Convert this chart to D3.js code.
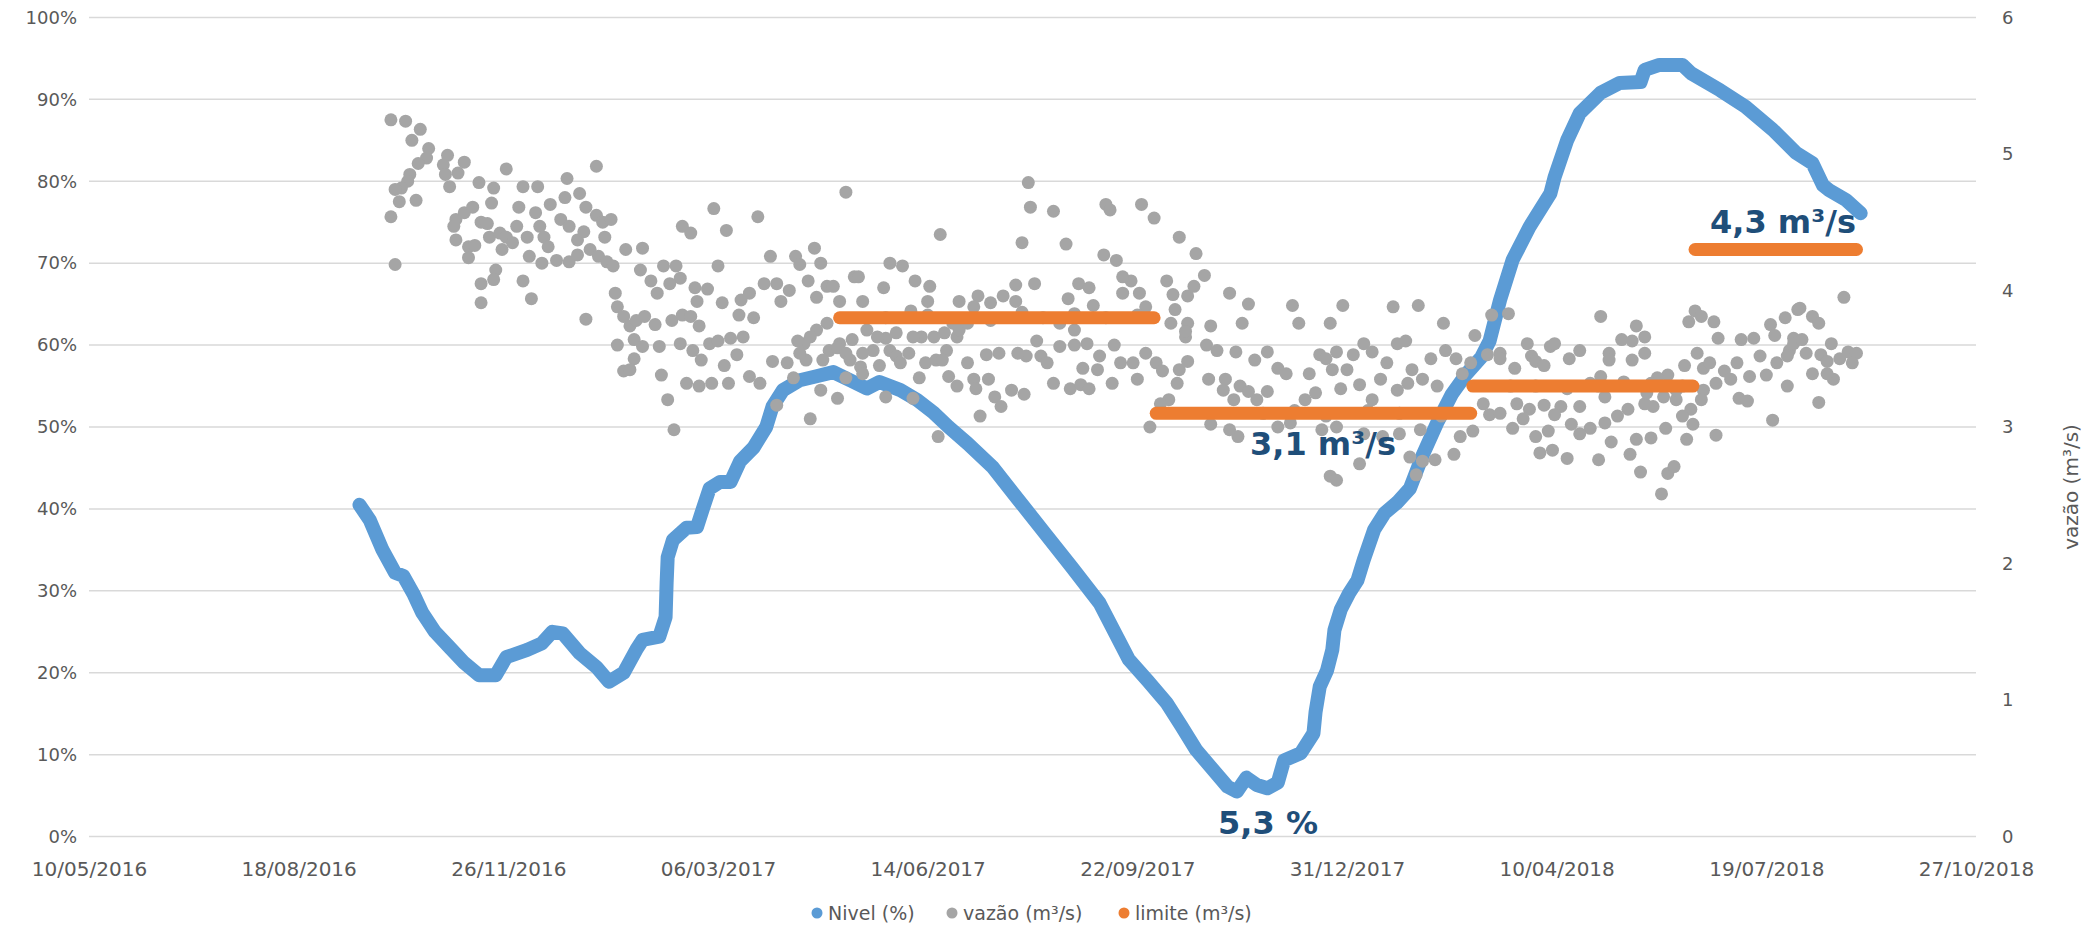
<!DOCTYPE html>
<html><head><meta charset="utf-8">
<script src="https://cdn.jsdelivr.net/npm/d3@7"></script>
<style>
body{margin:0;background:#fff}
svg{display:block}
text{font-family:'DejaVu Sans',sans-serif}
</style></head>
<body><div id="chart"></div>
<script>
// ---------- DATA ----------
const dataBase = '2016-05-10'; // days below are counted from this date
const xTickLabels = ['10/05/2016','18/08/2016','26/11/2016','06/03/2017','14/06/2017','22/09/2017','31/12/2017','10/04/2018','19/07/2018','27/10/2018'];
const yTicksNivel = [0,0.1,0.2,0.3,0.4,0.5,0.6,0.7,0.8,0.9,1];
const yTicksVazao = [0,1,2,3,4,5,6];
const seriesNames = ['Nivel (%)','vazão (m³/s)','limite (m³/s)'];

// Nivel (%) : [day, percent]
const nivel = [[129,40.5],[134,38.6],[140,35.0],[146,32.2],[150,31.8],[155,29.5],[159,27.3],[165,25.0],[172,23.1],[179,21.2],[186,19.7],[194,19.7],[199,21.9],[209,22.8],[216,23.6],[221,25.0],[226,24.8],[234,22.4],[242,20.7],[248,18.9],[255,20.0],[261,22.8],[264,24.0],[272,24.4],[275,26.8],[275.5,31.0],[276,34.1],[278.5,36.2],[285,37.7],[290,37.8],[293,40.2],[296,42.5],[301,43.3],[306,43.3],[310.5,45.8],[317,47.5],[323,50.0],[326,52.5],[331,54.5],[339,55.7],[347,56.2],[355,56.7],[363,55.7],[371,54.7],[377,55.5],[387,54.5],[395,53.3],[403,51.7],[410,50.0],[419,48.0],[431,45.1],[443,41.2],[456,37.0],[469,32.8],[482,28.5],[496,21.6],[505,19.0],[514,16.3],[521,13.5],[528,10.6],[535,8.5],[543,6.1],[547.5,5.5],[552,7.2],[557,6.3],[562,5.9],[567,6.6],[570,9.3],[578,10.2],[584,12.6],[585,15.2],[587,18.3],[590.5,20.3],[593,22.8],[594,25.2],[597,27.7],[601,29.7],[605,31.3],[608,33.8],[613,37.5],[618,39.5],[624,40.8],[630,42.5],[636,46.5],[643,50.5],[650,54.0],[657,56.5],[664,58.5],[668,60.5],[673,65.5],[679,70.4],[687,74.4],[697,78.5],[699,80.5],[705,85.0],[711,88.3],[721,90.8],[730,92.0],[740,92.1],[742,93.6],[749,94.2],[760,94.2],[764,93.2],[778,91.1],[790,89.1],[803,86.3],[814,83.5],[822,82.2],[827,79.5],[830,78.9],[838,77.7],[845,76.1]];

// vazão (m³/s) : [day, value]
const vazao = [
[144,5.25],[151,5.24],[158,5.18],[154,5.10],[162,5.04],[161,4.97],[157,4.93],[171,4.99],[169,4.92],[170,4.85],[172,4.76],[176,4.86],[179,4.94],[153,4.85],[152,4.80],[149,4.75],[146,4.74],[148,4.65],[156,4.66],[144,4.54],[146,4.19],[186,4.79],[193,4.75],[192,4.64],[199,4.89],[207,4.76],[214,4.76],[205,4.61],[213,4.57],[220,4.63],[227,4.68],[228,4.82],[234,4.71],[237,4.61],[242,4.91],[242,4.55],[245,4.50],[249,4.52],[175,4.52],[179,4.57],[183,4.61],[174,4.47],[187,4.50],[190,4.49],[191,4.39],[175,4.37],[181,4.32],[184,4.33],[181,4.24],[196,4.42],[199,4.39],[202,4.35],[197,4.30],[204,4.47],[209,4.39],[210,4.25],[215,4.47],[217,4.39],[219,4.32],[216,4.20],[223,4.22],[225,4.52],[229,4.47],[233,4.37],[236,4.43],[229,4.21],[233,4.26],[239,4.30],[243,4.25],[246,4.39],[247,4.21],[250,4.18],[256,4.30],[264,4.31],[263,4.15],[268,4.07],[274,4.18],[280,4.18],[282,4.09],[271,3.98],[277,4.05],[283,4.47],[287,4.42],[298,4.60],[300,4.18],[304,4.44],[302,3.91],[289,4.02],[295,4.01],[290,3.92],[194,4.15],[193,4.08],[187,4.05],[187,3.91],[207,4.07],[211,3.94],[237,3.79],[251,3.98],[252,3.88],[255,3.81],[258,3.74],[261,3.78],[265,3.81],[270,3.75],[260,3.64],[252,3.60],[264,3.59],[272,3.59],[260,3.50],[255,3.41],[258,3.42],[273,3.38],[276,3.20],[279,2.98],[278,3.78],[283,3.82],[287,3.81],[291,3.74],[282,3.61],[288,3.56],[292,3.49],[296,3.61],[300,3.63],[303,3.45],[285,3.32],[291,3.30],[297,3.32],[305,3.32],[306,3.65],
[319,4.54],[325,4.25],[337,4.25],[339,4.19],[346,4.31],[349,4.20],[361,4.72],[322,4.05],[328,4.05],[315,3.98],[311,3.93],[330,3.92],[334,4.00],[343,4.07],[347,3.95],[352,4.03],[355,4.03],[358,3.92],[365,4.10],[367,4.10],[369,3.92],[379,4.02],[382,4.20],[388,4.18],[394,4.07],[401,4.03],[400,3.92],[406,4.41],[442,4.04],[451,4.05],[445,4.35],[466,4.34],[448,4.79],[449,4.61],[460,4.58],[485,4.63],[487,4.59],[502,4.63],[508,4.53],[520,4.39],[528,4.27],[484,4.26],[490,4.22],[472,4.05],[477,4.02],[467,3.94],[497,4.07],[493,3.98],[501,3.98],[514,4.07],[517,3.97],[518,3.86],[516,3.76],[524,3.76],[523,3.66],[504,3.88],[442,3.92],[415,3.92],[424,3.96],[430,3.91],[436,3.96],[422,3.88],[412,3.76],[408,3.69],[403,3.66],[409,3.56],[397,3.66],[393,3.66],[385,3.69],[380,3.65],[376,3.66],[371,3.71],[374,3.56],[369,3.54],[364,3.64],[358,3.61],[353,3.56],[352,3.76],[347,3.71],[341,3.61],[338,3.63],[344,3.66],[342,3.49],[339,3.54],[333,3.47],[326,3.48],[350,3.49],[357,3.58],[361,3.54],[363,3.49],[368,3.44],[369,3.39],[377,3.45],[382,3.56],[385,3.52],[391,3.54],[387,3.47],[396,3.36],[399,3.47],[404,3.49],[407,3.49],[414,3.66],[415,3.71],[419,3.76],[419,3.47],[422,3.35],[423,3.28],[428,3.53],[434,3.54],[429,3.35],[432,3.22],[435,3.15],[440,3.27],[446,3.24],[425,3.08],[410,3.37],[414,3.30],[405,2.93],[393,3.21],[380,3.22],[357,3.21],[344,3.06],[361,3.36],[336,3.36],[328,3.16],[349,3.27],[320,3.32],[315,3.37],[312,3.66],[309,3.53],[310,3.82],[317,3.80],[452,3.63],[454,3.52],[457,3.47],[447,3.52],[460,3.32],[463,3.59],[470,3.60],[476,3.61],[468,3.28],[473,3.31],[477,3.28],[474,3.43],[481,3.42],[482,3.52],[489,3.60],[488,3.32],[492,3.47],[498,3.47],[500,3.35],[504,3.54],[509,3.47],[512,3.41],[515,3.20],[506,3.00],[511,3.17],[519,3.32],[520,3.42],[524,3.48],[523,3.70],[524,3.96],[463,3.76],[493,4.10],[479,3.89],[470,3.71],[443,3.54],[380,3.80],[400,3.82],[430,3.78],[455,3.80],[470,3.83],[485,3.80],[500,3.82],[392,3.85],[445,3.84],
[532,4.11],[527,4.03],[544,3.98],[553,3.90],[550,3.76],[535,3.74],[574,3.89],[577,3.76],[598,3.89],[592,3.76],[622,3.88],[634,3.89],[646,3.76],[661,3.67],[669,3.82],[533,3.60],[538,3.56],[547,3.55],[556,3.49],[562,3.55],[567,3.43],[571,3.39],[534,3.35],[542,3.35],[541,3.27],[549,3.30],[553,3.26],[557,3.20],[562,3.26],[546,3.20],[582,3.39],[580,3.20],[585,3.25],[587,3.53],[590,3.50],[593,3.42],[595,3.55],[600,3.42],[603,3.53],[608,3.61],[612,3.55],[619,3.47],[624,3.61],[628,3.63],[631,3.42],[597,3.28],[606,3.31],[612,3.20],[616,3.35],[624,3.27],[629,3.32],[636,3.35],[640,3.50],[643,3.30],[647,3.56],[652,3.50],[655,3.39],[659,3.47],[667,3.53],[665,3.17],[668,3.09],[535,3.02],[548,2.93],[567,3.00],[573,3.03],[588,2.98],[595,3.00],[608,2.95],[617,2.93],[625,2.95],[635,2.98],[630,2.78],[636,2.75],[642,2.76],[651,2.80],[654,2.93],[660,2.97],[606,2.73],[633,2.65],[592,2.64],[595,2.61],[544,2.98],[673,3.54],[560,3.10],[575,3.12],[590,3.08],[610,3.12],[625,3.10],[645,3.08],
[677,3.83],[686,3.61],[721,3.81],[697,3.59],[699,3.61],[673,3.50],[688,3.52],[690,3.48],[694,3.45],[706,3.50],[711,3.56],[680,3.43],[725,3.54],[731,3.64],[738,3.74],[742,3.66],[736,3.63],[725,3.49],[736,3.49],[742,3.54],[763,3.77],[766,3.85],[769,3.81],[775,3.77],[777,3.65],[767,3.54],[761,3.45],[770,3.43],[773,3.47],[788,3.64],[794,3.65],[802,3.75],[804,3.67],[809,3.80],[815,3.86],[780,3.41],[786,3.47],[792,3.37],[797,3.52],[800,3.38],[805,3.47],[811,3.56],[813,3.65],[810,3.30],[803,3.05],[787,3.21],[791,3.19],[776,3.32],[770,3.27],[769,3.20],[776,2.94],[762,2.91],[765,3.02],[764,3.13],[760,3.08],[757,3.20],[752,2.99],[746,3.15],[742,3.17],[734,3.13],[729,3.08],[723,3.03],[716,2.99],[711,2.95],[707,3.02],[711,3.15],[716,3.32],[723,3.22],[721,3.37],[732,3.33],[702,3.15],[699,3.09],[694,3.16],[687,3.13],[684,3.06],[679,2.99],[673,3.10],[678,3.30],[681,3.17],[690,2.93],[692,2.81],[698,2.83],[696,2.97],[705,2.77],[720,2.76],[726,2.89],[735,2.80],[738,2.91],[745,2.92],[740,2.67],[753,2.66],[756,2.71],[750,2.51],[751,3.22],[753,3.38],[757,3.27],[748,3.36],[743,3.25],[783,3.35],[690,3.30],[705,3.28],[720,3.30],[745,3.32],[760,3.30],
[837,3.95],[816,3.87],[822,3.81],[825,3.76],[813,3.61],[817,3.64],[831,3.61],[810,3.52],[819,3.54],[826,3.53],[829,3.48],[835,3.50],[839,3.55],[843,3.54],[841,3.47],[822,3.39],[832,3.35],[829,3.39],[825,3.18]
];

// limite (m³/s)
const limiteInicio = ['2017-05-03','2017-10-01','2018-03-01','2018-06-15'];
const limiteFim    = ['2017-09-30','2018-02-28','2018-06-14','2018-08-31'];
const limiteValor  = [3.8, 3.1, 3.3, 4.3];

// annotation texts
const anotTexto = ['5,3 %','3,1 m³/s','4,3 m³/s'];

// ---------- CHART ----------
const W = 2090, H = 927;
const m = {l:89, r:1976, t:17.4, b:836.6};
const parseISO = d3.timeParse('%Y-%m-%d');
const parseBR = d3.timeParse('%d/%m/%Y');
const base = parseISO(dataBase);
const dayToDate = d => new Date(base.getTime() + d*86400000);

const x = d3.scaleTime().domain([parseBR(xTickLabels[0]), parseBR(xTickLabels[xTickLabels.length-1])]).range([m.l, m.r]);
const yL = d3.scaleLinear().domain([0,1]).range([m.b, m.t]);
const yR = d3.scaleLinear().domain([0,6]).range([m.b, m.t]);

const svg = d3.select('#chart').append('svg').attr('width', W).attr('height', H);
svg.append('rect').attr('width', W).attr('height', H).attr('fill', '#fff');

// gridlines
svg.append('g').selectAll('line').data(yTicksNivel).join('line')
  .attr('x1', m.l).attr('x2', m.r)
  .attr('y1', d => yL(d)).attr('y2', d => yL(d))
  .attr('stroke', '#D9D9D9').attr('stroke-width', 1.5);

const axisColor = '#595959';
const gL = svg.append('g').attr('transform', `translate(${m.l},0)`)
  .call(d3.axisLeft(yL).tickValues(yTicksNivel).tickFormat(d3.format('.0%')).tickSize(0).tickPadding(12));
const gR = svg.append('g').attr('transform', `translate(${m.r},0)`)
  .call(d3.axisRight(yR).tickValues(yTicksVazao).tickFormat(d3.format('d')).tickSize(0).tickPadding(26));
const gB = svg.append('g').attr('transform', `translate(0,${m.b})`)
  .call(d3.axisBottom(x).tickValues(xTickLabels.map(parseBR)).tickFormat(d3.timeFormat('%d/%m/%Y')).tickSize(0).tickPadding(25));
[gL, gR, gB].forEach(g => {
  g.select('.domain').remove();
  g.selectAll('text').attr('fill', axisColor).style('font-family', "'DejaVu Sans',sans-serif").style('font-size', '18px');
});
gB.selectAll('text').style('font-size', '20px');

// right axis title
svg.append('text').attr('transform', `translate(2071,487) rotate(-90)`)
  .attr('text-anchor', 'middle').attr('dy', '0.35em')
  .attr('fill', axisColor).style('font-size', '20px').text('vazão (m³/s)');

// Nivel line (drawn as chain of markers)
const line = d3.line().x(d => x(dayToDate(d[0]))).y(d => yL(d[1]/100));
svg.append('path').datum(nivel).attr('d', line)
  .attr('fill', 'none').attr('stroke', '#5B9BD5').attr('stroke-width', 14)
  .attr('stroke-linecap', 'round').attr('stroke-linejoin', 'round');

// vazão points
svg.append('g').selectAll('circle').data(vazao).join('circle')
  .attr('cx', d => x(dayToDate(d[0]))).attr('cy', d => yR(d[1]))
  .attr('r', 6.5).attr('fill', '#A5A5A5');

// limite segments
svg.append('g').selectAll('line').data(limiteValor).join('line')
  .attr('x1', (d,i) => x(parseISO(limiteInicio[i]))).attr('x2', (d,i) => x(parseISO(limiteFim[i])))
  .attr('y1', d => yR(d)).attr('y2', d => yR(d))
  .attr('stroke', '#ED7D31').attr('stroke-width', 13).attr('stroke-linecap', 'round');

// annotations
const anotPos = [[1268, 834], [1323, 455], [1783, 233]];
svg.append('g').selectAll('text').data(anotTexto).join('text')
  .attr('x', (d,i) => anotPos[i][0]).attr('y', (d,i) => anotPos[i][1])
  .attr('text-anchor', 'middle').attr('fill', '#1F4E79')
  .style('font-size', '32px').style('font-weight', 'bold').text(d => d);

// legend
const legColors = ['#5B9BD5','#A5A5A5','#ED7D31'];
const legX = [817, 952, 1124];
const leg = svg.append('g');
seriesNames.forEach((n,i) => {
  leg.append('circle').attr('cx', legX[i]).attr('cy', 913).attr('r', 5.5).attr('fill', legColors[i]);
  leg.append('text').attr('x', legX[i] + 11).attr('y', 913).attr('dy', '0.35em')
    .attr('fill', axisColor).style('font-size', '19px').text(n);
});
</script>
</body></html>
